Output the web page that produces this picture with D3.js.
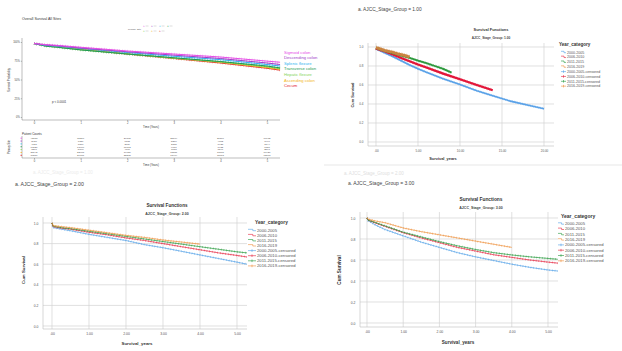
<!DOCTYPE html>
<html>
<head>
<meta charset="utf-8">
<script src="https://cdn.jsdelivr.net/npm/d3@7"></script>
<style>
body { margin: 0; background: #fff; }
text { font-family: "Liberation Sans", Arial, sans-serif; }
</style>
</head>
<body>
<svg id="chart" width="622" height="351"></svg>
<script>
// ---------- overall survival (top left) ----------
var siteNames = ["Sigmoid colon", "Descending colon", "Splenic flexure", "Transverse colon",
                 "Hepatic flexure", "Ascending colon", "Cecum"];
var siteColors = ["#e64ce6", "#a03cc8", "#2fb4f0", "#1c9a52", "#86d45a", "#f2b51c", "#e3242b"];
var siteTimes = [0, 0.25, 0.5, 1, 2, 3, 4, 5, 5.28];
var sigmoidSurv    = [0.98, 0.965, 0.955, 0.93, 0.88, 0.84, 0.80, 0.745, 0.73];
var descendingSurv = [0.98, 0.96, 0.95, 0.92, 0.87, 0.825, 0.78, 0.72, 0.70];
var splenicSurv    = [0.98, 0.955, 0.945, 0.915, 0.86, 0.81, 0.765, 0.70, 0.68];
var transverseSurv = [0.98, 0.945, 0.93, 0.895, 0.84, 0.79, 0.74, 0.68, 0.655];
var hepaticSurv    = [0.98, 0.945, 0.93, 0.895, 0.84, 0.785, 0.735, 0.67, 0.645];
var ascendingSurv  = [0.98, 0.955, 0.94, 0.905, 0.845, 0.785, 0.73, 0.66, 0.635];
var cecumSurv      = [0.98, 0.955, 0.94, 0.905, 0.84, 0.78, 0.72, 0.65, 0.625];
var siteSurv = [sigmoidSurv, descendingSurv, splenicSurv, transverseSurv, hepaticSurv, ascendingSurv, cecumSurv];

var countTimes = [0, 1, 2, 3, 4, 5];
var sigmoidCounts    = [42183, 35210, 29875, 25104, 20866, 16932];
var descendingCounts = [8920, 7321, 6188, 5210, 4312, 3496];
var splenicCounts    = [4121, 3310, 2789, 2335, 1928, 1544];
var transverseCounts = [17520, 13906, 11602, 9637, 7922, 6321];
var hepaticCounts    = [7210, 5703, 4766, 3958, 3246, 2597];
var ascendingCounts  = [28642, 22905, 19120, 15881, 13005, 10420];
var cecumCounts      = [33810, 26731, 22238, 18404, 15018, 12003];
var siteCounts = [sigmoidCounts, descendingCounts, splenicCounts, transverseCounts, hepaticCounts, ascendingCounts, cecumCounts];

// ---------- AJCC stage panels ----------
var yearCats = ["2000-2005", "2006-2010", "2011-2015", "2016-2019"];
var yearColors = ["#4f9fe6", "#e5213c", "#23983a", "#ee8f3a"];
var legendLabels = ["2000-2005", "2006-2010", "2011-2015", "2016-2019",
                    "2000-2005-censored", "2006-2010-censored", "2011-2015-censored", "2016-2019-censored"];

// stage 1
var s1T2000 = [0, 0.5, 1, 2, 3, 4, 5, 6, 8, 10, 12, 14, 16, 18, 20];
var s1S2000 = [0.98, 0.96, 0.94, 0.90, 0.855, 0.81, 0.77, 0.735, 0.665, 0.605, 0.54, 0.485, 0.43, 0.39, 0.35];
var s1T2006 = [0, 0.5, 1, 2, 3, 4, 5, 6, 8, 10, 12, 13.9];
var s1S2006 = [0.985, 0.97, 0.955, 0.92, 0.885, 0.85, 0.815, 0.785, 0.72, 0.66, 0.60, 0.545];
var s1T2011 = [0, 0.5, 1, 2, 3, 4, 5, 6, 7, 8, 9];
var s1S2011 = [0.99, 0.975, 0.96, 0.935, 0.91, 0.885, 0.856, 0.83, 0.80, 0.77, 0.73];
var s1T2016 = [0, 0.5, 1, 1.5, 2, 2.5, 3, 3.5, 4];
var s1S2016 = [0.995, 0.98, 0.965, 0.955, 0.945, 0.93, 0.92, 0.91, 0.895];

// stages 2 and 3 share a time grid
var stageTimes = [0, 0.03, 0.25, 0.5, 1, 1.5, 2, 2.5, 3, 3.5, 4, 4.5, 5, 5.27];
var s2S2000 = [1.0, 0.955, 0.94, 0.925, 0.89, 0.86, 0.83, 0.79, 0.76, 0.725, 0.69, 0.655, 0.62, 0.60];
var s2S2006 = [1.0, 0.965, 0.95, 0.94, 0.91, 0.885, 0.855, 0.83, 0.80, 0.77, 0.74, 0.71, 0.685, 0.67];
var s2S2011 = [1.0, 0.97, 0.955, 0.945, 0.92, 0.895, 0.87, 0.845, 0.82, 0.795, 0.77, 0.745, 0.72, 0.71];
var s2S2016 = [1.0, 0.975, 0.965, 0.955, 0.93, 0.905, 0.88, 0.86, 0.835, 0.815, 0.795];

var s3S2000 = [1.0, 0.975, 0.93, 0.89, 0.83, 0.77, 0.72, 0.67, 0.63, 0.595, 0.56, 0.53, 0.505, 0.495];
var s3S2006 = [1.0, 0.98, 0.95, 0.92, 0.86, 0.81, 0.765, 0.72, 0.685, 0.65, 0.625, 0.60, 0.58, 0.57];
var s3S2011 = [1.0, 0.98, 0.955, 0.925, 0.865, 0.82, 0.775, 0.735, 0.70, 0.67, 0.648, 0.63, 0.615, 0.607];
var s3S2016 = [1.0, 0.99, 0.97, 0.955, 0.905, 0.87, 0.84, 0.81, 0.78, 0.75, 0.72];

var svg = d3.select("#chart");

function zip(ts, ss) {
    return ss.map(function(s, i) { return [ts[i], s]; });
}

// ================= panel 1 =================
var p1 = svg.append("g");
var x1 = d3.scaleLinear().domain([0, 5]).range([34, 267]);
var y1 = d3.scaleLinear().domain([0, 1]).range([117, 42]);

p1.append("text").attr("x", 22).attr("y", 20).text("Overall Survival All Sites")
    .style("font-size", "3.6px").attr("fill", "#333");

// top legend
p1.append("text").attr("x", 128).attr("y", 30).text("Primary Site")
    .style("font-size", "2.4px").attr("fill", "#555");
siteColors.forEach(function(c, i) {
    var row = i < 4 ? 0 : 1;
    var col = i < 4 ? i : i - 4;
    var lx = 143 + col * 8;
    var ly = row === 0 ? 26 : 31;
    p1.append("text").attr("x", lx).attr("y", ly + 1).text("+")
        .style("font-size", "3px").attr("fill", c);
    p1.append("line").attr("x1", lx + 2.6).attr("x2", lx + 5.5).attr("y1", ly).attr("y2", ly)
        .attr("stroke", "#bbb").attr("stroke-width", 0.5);
});

// axes
p1.append("line").attr("x1", 22).attr("x2", 22).attr("y1", 38).attr("y2", 120)
    .attr("stroke", "#555").attr("stroke-width", 0.4);
p1.append("line").attr("x1", 22).attr("x2", 280).attr("y1", 120).attr("y2", 120)
    .attr("stroke", "#555").attr("stroke-width", 0.4);

var yAx1 = p1.append("g").attr("transform", "translate(22,0)")
    .call(d3.axisLeft(y1).tickValues([0, 0.25, 0.5, 0.75, 1]).tickFormat(d3.format(".0%"))
        .tickSize(1.2).tickPadding(1));
yAx1.select(".domain").remove();
yAx1.selectAll("text").style("font-size", "2.6px").attr("fill", "#444");
yAx1.selectAll("line").attr("stroke", "#555").attr("stroke-width", 0.4);

var xAx1 = p1.append("g").attr("transform", "translate(0,120)")
    .call(d3.axisBottom(x1).tickValues(countTimes).tickFormat(d3.format("d"))
        .tickSize(1.2).tickPadding(1));
xAx1.select(".domain").remove();
xAx1.selectAll("text").style("font-size", "2.6px").attr("fill", "#444");
xAx1.selectAll("line").attr("stroke", "#555").attr("stroke-width", 0.4);

p1.append("text").attr("x", 151).attr("y", 128).attr("text-anchor", "middle")
    .text("Time (Years)").style("font-size", "2.8px").attr("fill", "#333");
p1.append("text").attr("transform", "translate(10,80) rotate(-90)").attr("text-anchor", "middle")
    .text("Survival Probability").style("font-size", "2.8px").attr("fill", "#333");
p1.append("text").attr("x", 52).attr("y", 103).text("p < 0.0001")
    .style("font-size", "3px").attr("fill", "#333");

var line1 = d3.line().x(function(d) { return x1(d[0]); }).y(function(d) { return y1(d[1]); });
for (var k = siteSurv.length - 1; k >= 0; k--) {
    var pts = zip(siteTimes, siteSurv[k]);
    p1.append("path").attr("d", line1(pts)).attr("fill", "none")
        .attr("stroke", siteColors[k]).attr("stroke-width", 1.0);
    p1.append("path").attr("d", line1(pts)).attr("fill", "none")
        .attr("stroke", siteColors[k]).attr("stroke-width", 2.6).attr("opacity", 0.55)
        .attr("stroke-dasharray", "0.4 2.2");
}

siteNames.forEach(function(n, i) {
    p1.append("text").attr("x", 284).attr("y", 53.5 + i * 5.6).text(n)
        .style("font-size", "4.2px").attr("fill", siteColors[i]);
});

// patient counts table
p1.append("text").attr("x", 22).attr("y", 134.5).text("Patient Counts")
    .style("font-size", "3px").attr("fill", "#333");
p1.append("line").attr("x1", 22).attr("x2", 22).attr("y1", 136).attr("y2", 158)
    .attr("stroke", "#555").attr("stroke-width", 0.4);
p1.append("line").attr("x1", 22).attr("x2", 280).attr("y1", 158).attr("y2", 158)
    .attr("stroke", "#555").attr("stroke-width", 0.4);
siteCounts.forEach(function(row, i) {
    var ry = 139 + i * 2.85;
    p1.append("line").attr("x1", 20.5).attr("x2", 22).attr("y1", ry - 0.8).attr("y2", ry - 0.8)
        .attr("stroke", siteColors[i]).attr("stroke-width", 0.8);
    p1.selectAll(null).data(row).enter().append("text")
        .attr("x", function(d, j) { return x1(countTimes[j]); })
        .attr("y", ry).attr("text-anchor", "middle")
        .text(function(d) { return d; })
        .style("font-size", "2.5px").attr("fill", "#555");
});
var xAx1b = p1.append("g").attr("transform", "translate(0,158)")
    .call(d3.axisBottom(x1).tickValues(countTimes).tickFormat(d3.format("d"))
        .tickSize(1.2).tickPadding(1));
xAx1b.select(".domain").remove();
xAx1b.selectAll("text").style("font-size", "2.6px").attr("fill", "#444");
xAx1b.selectAll("line").attr("stroke", "#555").attr("stroke-width", 0.4);
p1.append("text").attr("x", 151).attr("y", 166).attr("text-anchor", "middle")
    .text("Time (Years)").style("font-size", "2.8px").attr("fill", "#333");
p1.append("text").attr("transform", "translate(10,147) rotate(-90)").attr("text-anchor", "middle")
    .text("Primary Site").style("font-size", "2.6px").attr("fill", "#333");

// faint leftovers of the page
svg.append("text").attr("x", 33).attr("y", 174).text("a. AJCC_Stage_Group = 1.00")
    .style("font-size", "4.5px").attr("fill", "#ececec");
svg.append("text").attr("x", 344).attr("y", 175).text("a. AJCC_Stage_Group = 2.00")
    .style("font-size", "4.5px").attr("fill", "#dedede");
svg.append("line").attr("x1", 324).attr("x2", 622).attr("y1", 165).attr("y2", 165)
    .attr("stroke", "#efefef").attr("stroke-width", 1.5);

// ================= SPSS stage panels =================
function stagePanel(c) {
    var g = svg.append("g");
    var x = d3.scaleLinear().domain([0, c.xMax]).range([c.gx0, c.gx1]);
    var y = d3.scaleLinear().domain([0, 1]).range([c.gy0, c.gy1]);
    var yTicks = [0, 0.2, 0.4, 0.6, 0.8, 1.0];

    g.append("text").attr("x", c.labelX).attr("y", c.labelY).text(c.label)
        .style("font-size", c.labelSize + "px").attr("fill", "#444");
    g.append("text").attr("x", c.titleX).attr("y", c.titleY).attr("text-anchor", "middle")
        .text("Survival Functions").style("font-size", c.titleSize + "px")
        .style("font-weight", "bold").attr("fill", "#333");
    g.append("text").attr("x", c.titleX).attr("y", c.subY).attr("text-anchor", "middle")
        .text(c.sub).style("font-size", c.subSize + "px")
        .style("font-weight", "bold").attr("fill", "#444");

    g.selectAll(null).data(c.xTicks).enter().append("line")
        .attr("x1", function(d) { return x(d); }).attr("x2", function(d) { return x(d); })
        .attr("y1", c.top).attr("y2", c.bottom)
        .attr("stroke", "#d2d2d2").attr("stroke-width", 0.7);
    g.selectAll(null).data(yTicks).enter().append("line")
        .attr("x1", c.left).attr("x2", c.right)
        .attr("y1", function(d) { return y(d); }).attr("y2", function(d) { return y(d); })
        .attr("stroke", "#d2d2d2").attr("stroke-width", 0.7);
    g.append("line").attr("x1", c.left).attr("x2", c.left).attr("y1", c.top).attr("y2", c.bottom)
        .attr("stroke", "#bdbdbd").attr("stroke-width", 0.6);
    g.append("line").attr("x1", c.left).attr("x2", c.right).attr("y1", c.bottom).attr("y2", c.bottom)
        .attr("stroke", "#bdbdbd").attr("stroke-width", 0.6);

    var xa = g.append("g").attr("transform", "translate(0," + c.bottom + ")")
        .call(d3.axisBottom(x).tickValues(c.xTicks)
            .tickFormat(function(d) { return d === 0 ? ".00" : d3.format(".2f")(d); })
            .tickSize(0).tickPadding(c.tickPad));
    xa.select(".domain").remove();
    xa.selectAll("text").style("font-size", c.tickSize + "px").attr("fill", "#555");

    var ya = g.append("g").attr("transform", "translate(" + (c.left - 0.5) + ",0)")
        .call(d3.axisLeft(y).tickValues(yTicks).tickFormat(d3.format(".1f"))
            .tickSize(0).tickPadding(c.yPad));
    ya.select(".domain").remove();
    ya.selectAll("text").style("font-size", c.tickSize + "px").attr("fill", "#555");

    g.append("text").attr("x", c.xlabX).attr("y", c.xlabY).attr("text-anchor", "middle")
        .text("Survival_years").style("font-size", c.axisLabSize + "px")
        .style("font-weight", "bold").attr("fill", "#333");
    g.append("text").attr("transform", "translate(" + c.ylabX + "," + c.ylabY + ") rotate(-90)")
        .attr("text-anchor", "middle").text("Cum Survival")
        .style("font-size", c.axisLabSize + "px").style("font-weight", "bold").attr("fill", "#333");

    var line = d3.line().x(function(d) { return x(d[0]); }).y(function(d) { return y(d[1]); });
    c.series.forEach(function(s, i) {
        var pts = zip(s.t, s.s);
        var col = c.colors ? c.colors[i] : yearColors[i];
        g.append("path").attr("d", line(pts)).attr("fill", "none")
            .attr("stroke", col).attr("stroke-width", c.lineW[i]);
        g.append("path").attr("d", line(pts)).attr("fill", "none")
            .attr("stroke", col).attr("stroke-width", c.markW[i])
            .attr("stroke-dasharray", c.dash).attr("opacity", 0.75);
    });

    // legend
    g.append("text").attr("x", c.legTitleX).attr("y", c.legTitleY).text("Year_category")
        .style("font-size", c.legTitleSize + "px").style("font-weight", "bold").attr("fill", "#333");
    legendLabels.forEach(function(lab, i) {
        var ly = c.legY + i * c.legStep;
        var col = yearColors[i % 4];
        if (i < 4) {
            g.append("path")
                .attr("d", "M" + c.legSymX + "," + (ly - 2.2) + "h" + (c.legSymW * 0.6) +
                    "v1.4h" + (c.legSymW * 0.4))
                .attr("fill", "none").attr("stroke", col).attr("stroke-width", 0.6);
        } else {
            g.append("line").attr("x1", c.legSymX).attr("x2", c.legSymX + c.legSymW)
                .attr("y1", ly - 1.3).attr("y2", ly - 1.3)
                .attr("stroke", col).attr("stroke-width", 0.6);
            g.append("line").attr("x1", c.legSymX + c.legSymW / 2).attr("x2", c.legSymX + c.legSymW / 2)
                .attr("y1", ly - 2.6).attr("y2", ly)
                .attr("stroke", col).attr("stroke-width", 0.6);
        }
        g.append("text").attr("x", c.legTextX).attr("y", ly).text(lab)
            .style("font-size", c.legSize + "px").attr("fill", "#555");
    });
}

stagePanel({
    label: "a. AJCC_Stage_Group = 1.00", labelX: 358, labelY: 11, labelSize: 4.8,
    sub: "AJCC_Stage_Group: 1.00", titleX: 491, titleY: 30.5, subY: 38.5, titleSize: 3.9, subSize: 3.2,
    xMax: 20, xTicks: [0, 5, 10, 15, 20], gx0: 376, gx1: 544, gy0: 142, gy1: 47,
    left: 368, right: 554, top: 43, bottom: 146, tickSize: 3, tickPad: 4, yPad: 4,
    xlabX: 443, xlabY: 160, ylabX: 354, ylabY: 95, axisLabSize: 3.9,
    series: [{ t: s1T2000, s: s1S2000 }, { t: s1T2006, s: s1S2006 }, { t: s1T2011, s: s1S2011 }, { t: s1T2016, s: s1S2016 }],
    colors: ["#5aa2e8", "#e3173a", "#2e9a3e", "#c98440"],
    lineW: [1.6, 2.2, 1.8, 2.8], markW: [2.4, 2.8, 2.6, 4.0], dash: "0.5 1.2",
    legTitleX: 559, legTitleY: 45.5, legTitleSize: 4.6, legY: 53.5, legStep: 4.85,
    legSymX: 561, legSymW: 5, legTextX: 567, legSize: 3.6
});

stagePanel({
    label: "a. AJCC_Stage_Group = 2.00", labelX: 15, labelY: 186, labelSize: 5.2,
    sub: "AJCC_Stage_Group: 2.00", titleX: 167, titleY: 207, subY: 215, titleSize: 4.6, subSize: 3.6,
    xMax: 5, xTicks: [0, 1, 2, 3, 4, 5], gx0: 52, gx1: 237, gy0: 326, gy1: 223,
    left: 43, right: 247, top: 217, bottom: 329, tickSize: 3.4, tickPad: 4, yPad: 4,
    xlabX: 137, xlabY: 345, ylabX: 25, ylabY: 270, axisLabSize: 4.4,
    series: [{ t: stageTimes, s: s2S2000 }, { t: stageTimes, s: s2S2006 }, { t: stageTimes, s: s2S2011 }, { t: stageTimes, s: s2S2016 }],
    lineW: [0.7, 0.7, 0.7, 0.7], markW: [2, 2, 2, 2], dash: "0.5 2.2",
    legTitleX: 255, legTitleY: 224, legTitleSize: 4.8, legY: 231.5, legStep: 5.1,
    legSymX: 248, legSymW: 8, legTextX: 257, legSize: 4.2
});

stagePanel({
    label: "a. AJCC_Stage_Group = 3.00", labelX: 348, labelY: 185, labelSize: 5.0,
    sub: "AJCC_Stage_Group: 3.00", titleX: 481, titleY: 201, subY: 209, titleSize: 4.8, subSize: 3.6,
    xMax: 5, xTicks: [0, 1, 2, 3, 4, 5], gx0: 367, gx1: 548, gy0: 323, gy1: 218,
    left: 360, right: 558, top: 212, bottom: 327, tickSize: 3.4, tickPad: 4, yPad: 4,
    xlabX: 458, xlabY: 344, ylabX: 341, ylabY: 270, axisLabSize: 4.6,
    series: [{ t: stageTimes, s: s3S2000 }, { t: stageTimes, s: s3S2006 }, { t: stageTimes, s: s3S2011 }, { t: stageTimes, s: s3S2016 }],
    lineW: [0.7, 0.7, 0.7, 0.7], markW: [2, 2, 2, 2], dash: "0.5 2.2",
    legTitleX: 561, legTitleY: 218, legTitleSize: 5, legY: 225, legStep: 5.3,
    legSymX: 558, legSymW: 6, legTextX: 565, legSize: 4.2
});
</script>
</body>
</html>
